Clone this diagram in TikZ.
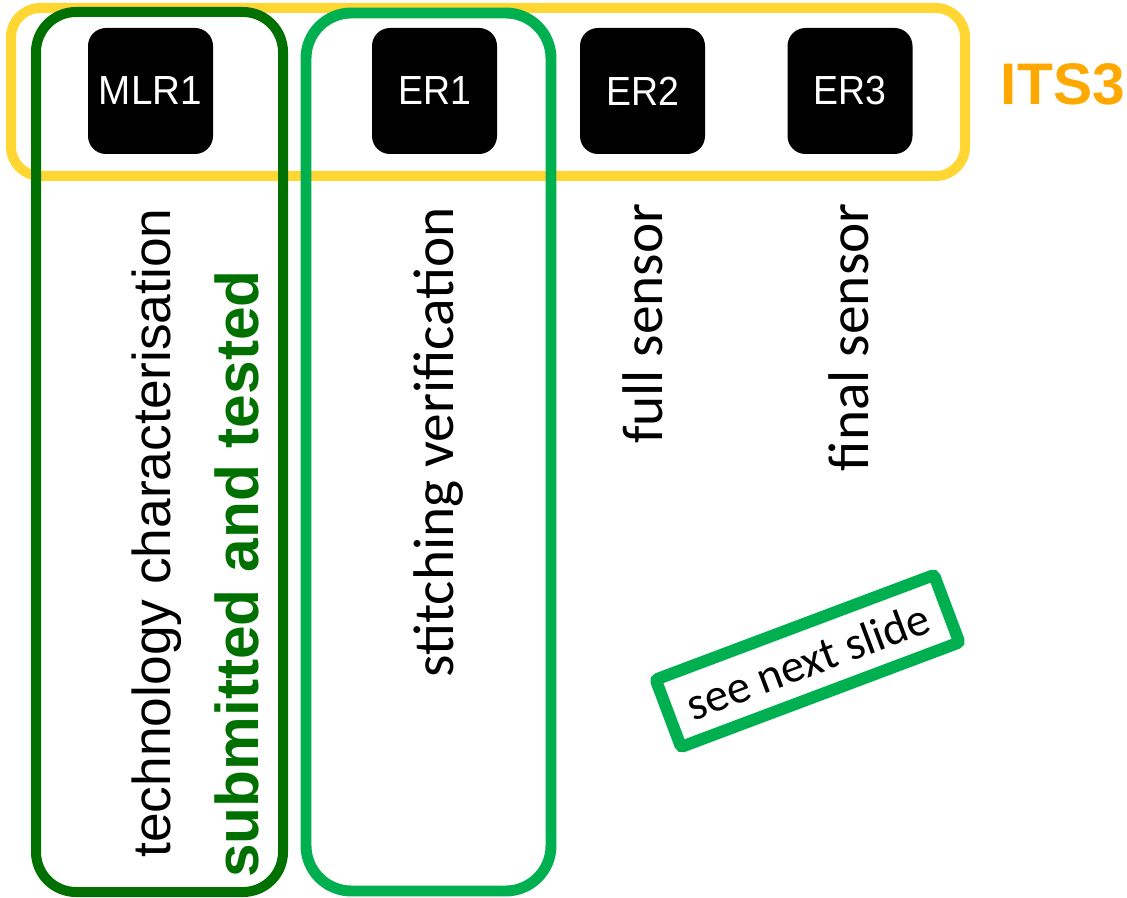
\documentclass[tikz,border=0pt]{standalone}
\usepackage{fontspec}
\setmainfont{Liberation Sans}
\newfontfamily\calibrifont{Carlito}
\definecolor{itsyellow}{RGB}{255,214,50}
\definecolor{itsorange}{RGB}{255,168,0}
\definecolor{darkgreen}{RGB}{0,112,0}
\definecolor{brightgreen}{RGB}{0,176,80}
\begin{document}
\begin{tikzpicture}[x=0.75pt,y=-0.75pt,
  chip/.style={fill=black,rounded corners=13.5pt,minimum width=93.75pt,minimum height=94.5pt,
    inner sep=0pt,text=white,font=\fontsize{30.5}{30.5}\selectfont},
  vlabel/.style={rotate=90,anchor=base east,inner sep=0pt},
  frame/.style={line width=7.5pt}]
\useasboundingbox (0,0) rectangle (1127,898);

% ITS3 group frame
\draw[frame,itsyellow,rounded corners=22pt] (11,8) rectangle (965,176);
\node[anchor=base east,inner sep=0pt,text=itsorange,font=\fontsize{44}{44}\selectfont\bfseries]
  (its) at (1125,105) {ITS3};

% submissions
\node[chip] (mlr1) at (150.5,91) {\addfontfeature{FakeStretch=0.95}MLR1};
\node[chip] (er1) at (434.5,91) {\addfontfeature{FakeStretch=0.92}ER1};
\node[chip] (er2) at (642.5,91) {\addfontfeature{FakeStretch=0.92}ER2};
\node[chip] (er3) at (850,91) {\addfontfeature{FakeStretch=0.92}ER3};

% column frames
\draw[frame,darkgreen,rounded corners=30pt] (36,12) rectangle (283,892);
\draw[frame,brightgreen,line width=8.2pt,rounded corners=34pt] (306,13) rectangle (551,891);

% purposes
\node[vlabel,font=\fontsize{40}{40}\selectfont] (tech) at (170,208) {technology characterisation};
\node[vlabel,font=\fontsize{45.3}{45.3}\selectfont\bfseries,text=darkgreen] (subm) at (258,270) {submitted and tested};
\node[vlabel,font=\calibrifont\fontsize{43}{43}\selectfont] (stitch) at (453,207) {stitching verification};
\node[vlabel,font=\calibrifont\fontsize{43}{43}\selectfont] (full) at (662,203) {full sensor};
\node[vlabel,font=\calibrifont\fontsize{43}{43}\selectfont] (final) at (868,203) {final sensor};

% pointer to the following page
\node[draw=brightgreen,line width=9pt,rounded corners=2pt,rotate=20.6,
  minimum width=223pt,minimum height=54pt,inner sep=0pt,
  font=\calibrifont\fontsize{35}{35}\selectfont] (next) at (807.5,661) {see next slide};
\end{tikzpicture}
\end{document}
